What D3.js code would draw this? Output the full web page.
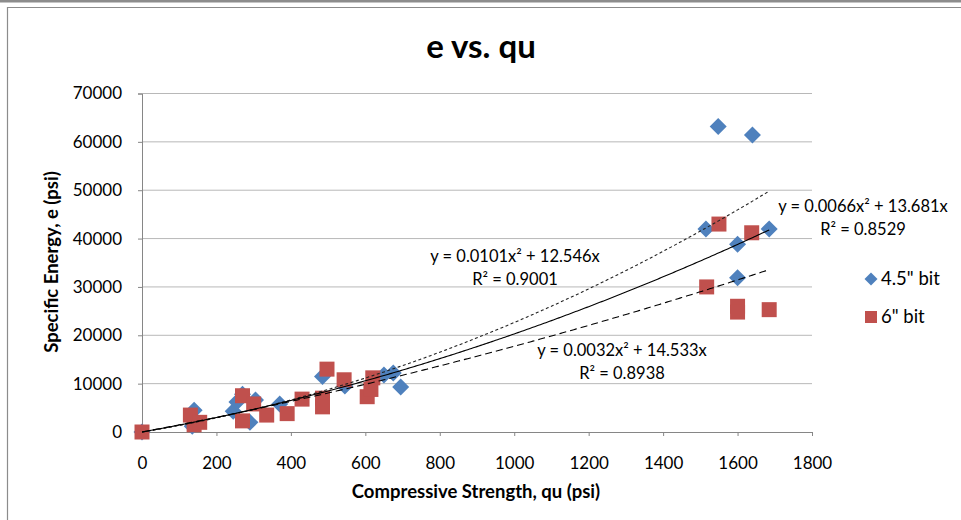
<!DOCTYPE html>
<html>
<head>
<meta charset="utf-8">
<script src="https://cdn.jsdelivr.net/npm/d3@7"></script>
<style>
  body { margin: 0; background: #fff; }
  svg text { font-family: Lato, "Open Sans", sans-serif; fill: #000; }
</style>
</head>
<body>
<div id="chart"></div>
<script>
// 4.5" bit
const qu45 = [0, 135, 140, 245, 255, 270, 290, 305, 370, 485, 545, 650, 675, 695, 1515, 1548, 1600, 1600, 1640, 1685];
const e45  = [0, 1200, 4500, 4300, 6200, 7800, 2000, 6600, 5800, 11500, 9500, 11800, 12200, 9300, 42000, 63200, 38800, 31900, 61400, 42000];
// 6" bit
const qu6 = [0, 130, 140, 155, 270, 270, 300, 335, 390, 430, 485, 485, 497, 543, 605, 615, 620, 1517, 1550, 1600, 1600, 1638, 1685];
const e6  = [0, 3500, 1500, 2000, 7500, 2300, 5800, 3500, 3800, 6800, 7000, 5200, 13000, 10800, 7300, 8800, 11200, 30000, 43000, 26000, 24800, 41200, 25300];

// trendlines y = a*x^2 + b*x
const trendNames = ["4.5", "6", "all"];
const trendA = [0.0101, 0.0032, 0.0066];
const trendB = [12.546, 14.533, 13.681];
const trendR2 = ["0.9001", "0.8938", "0.8529"];
const trendMax = 1685;

const xTicks = [0, 200, 400, 600, 800, 1000, 1200, 1400, 1600, 1800];
const yTicks = [0, 10000, 20000, 30000, 40000, 50000, 60000, 70000];
const legendNames = ['4.5" bit', '6" bit'];

const W = 961, H = 520;
const margin = { top: 93.5, right: 149, bottom: 88, left: 142 };

const svg = d3.select("#chart").append("svg")
  .attr("width", W).attr("height", H);

// frame
svg.append("rect").attr("x", 0).attr("y", 0).attr("width", W).attr("height", 2.5).attr("fill", "#8c8c8c");
svg.append("path")
  .attr("d", `M7.5,${H} V7.5 H${W}`)
  .attr("fill", "none").attr("stroke", "#8c8c8c").attr("stroke-width", 1.2);

const x = d3.scaleLinear().domain([0, 1800]).range([margin.left, W - margin.right]);
const y = d3.scaleLinear().domain([0, 70000]).range([H - margin.bottom, margin.top]);

// gridlines
svg.append("g").selectAll("line")
  .data(yTicks.filter(d => d > 0))
  .join("line")
  .attr("x1", x(0)).attr("x2", x(1800))
  .attr("y1", d => y(d)).attr("y2", d => y(d))
  .attr("stroke", "#b8b8b8").attr("stroke-width", 1);

// axes
const xAxis = svg.append("g")
  .attr("transform", `translate(0,${y(0)})`)
  .call(d3.axisBottom(x).tickValues(xTicks).tickSize(4).tickPadding(21).tickFormat(d3.format("d")));
const yAxis = svg.append("g")
  .attr("transform", `translate(${x(0)},0)`)
  .call(d3.axisLeft(y).tickValues(yTicks).tickSize(4).tickPadding(16).tickFormat(d3.format("d")));
[xAxis, yAxis].forEach(g => {
  g.select(".domain").attr("stroke", "#868686");
  g.selectAll(".tick line").attr("stroke", "#868686");
  g.selectAll(".tick text").style("font-size", "17px").attr("fill", "#000");
});

// markers
const diamond = s => `M0,${-s}L${s},0L0,${s}L${-s},0Z`;
const square = s => `M${-s},${-s}H${s}V${s}H${-s}Z`;

svg.append("g").selectAll("path")
  .data(qu45.map((q, i) => [q, e45[i]]))
  .join("path")
  .attr("transform", d => `translate(${x(d[0])},${y(d[1])})`)
  .attr("d", diamond(8.5))
  .attr("fill", "#4f81bd");

svg.append("g").selectAll("path")
  .data(qu6.map((q, i) => [q, e6[i]]))
  .join("path")
  .attr("transform", d => `translate(${x(d[0])},${y(d[1])})`)
  .attr("d", square(7.5))
  .attr("fill", "#c0504d");

// trendlines
const dashes = ["3,2.5", "7,4", null];
const line = d3.line().x(d => x(d[0])).y(d => y(d[1]));
trendNames.forEach((n, i) => {
  const pts = d3.range(0, trendMax + 1, 5).map(q => [q, trendA[i] * q * q + trendB[i] * q]);
  svg.append("path")
    .attr("d", line(pts))
    .attr("fill", "none")
    .attr("stroke", i === 0 ? "#222" : "#000")
    .attr("stroke-width", 1.1)
    .attr("stroke-dasharray", dashes[i]);
});

// equation labels
const eqPos = [[515, 262], [622, 356], [863, 212]];
trendNames.forEach((n, i) => {
  const g = svg.append("g").attr("transform", `translate(${eqPos[i][0]},${eqPos[i][1]})`);
  g.append("text").attr("text-anchor", "middle").style("font-size", "16.5px")
    .text(`y = ${trendA[i]}x² + ${trendB[i]}x`);
  g.append("text").attr("text-anchor", "middle").attr("y", 23).style("font-size", "16.5px")
    .text(`R² = ${trendR2[i]}`);
});

// title
svg.append("text")
  .attr("x", 481).attr("y", 58)
  .attr("text-anchor", "middle")
  .style("font-size", "33px").style("font-weight", "bold")
  .text("e vs. qu");

// axis titles
svg.append("text")
  .attr("x", 476).attr("y", 498)
  .attr("text-anchor", "middle")
  .style("font-size", "18.5px").style("font-weight", "bold")
  .text("Compressive Strength, qu (psi)");
svg.append("text")
  .attr("transform", "translate(58,262) rotate(-90)")
  .attr("text-anchor", "middle")
  .style("font-size", "18.5px").style("font-weight", "bold")
  .text("Specific Energy, e (psi)");

// legend
const legend = svg.append("g").attr("transform", "translate(871,0)");
legend.append("path").attr("transform", "translate(0,279)").attr("d", diamond(6.5)).attr("fill", "#4f81bd");
legend.append("path").attr("transform", "translate(0,317)").attr("d", square(6)).attr("fill", "#c0504d");
legend.selectAll(".legend-label")
  .data(legendNames)
  .join("text")
  .attr("class", "legend-label")
  .attr("x", 10)
  .attr("y", (d, i) => 279 + i * 38)
  .attr("dy", "0.35em")
  .style("font-size", "18.5px")
  .text(d => d);
</script>
</body>
</html>
